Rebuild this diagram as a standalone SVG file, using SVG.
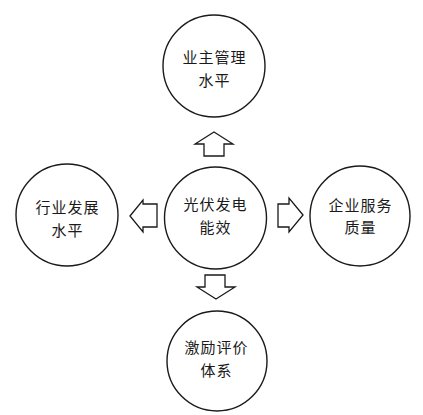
<svg xmlns="http://www.w3.org/2000/svg" width="423" height="415" viewBox="0 0 423 415">
<style>
.c{fill:#fff;stroke:#1a1a1a;stroke-width:1.4}
.a{fill:#fff;stroke:#1a1a1a;stroke-width:1.3;stroke-linejoin:miter}
text{font-family:"Noto Sans CJK SC","Noto Sans CJK JP",sans-serif;font-size:15px;letter-spacing:1px;fill:#1a1a1a;text-anchor:middle}
</style>
<rect width="423" height="415" fill="#fff"/>
<g id="connectors">
<polygon class="a" points="214,132 233,144 224,144 224,156 204,156 204,144 195,144"/>
<polygon class="a" points="216,299 235,287 225,287 225,275 205,275 205,287 197,287"/>
<polygon class="a" points="130,216 143,200 143,204 157,204 157,227 143,227 143,232"/>
<polygon class="a" points="303,215 289,198 289,204 278,204 278,227 289,227 289,232"/>
</g>
<g id="top"><circle class="c" cx="214" cy="66" r="51"/><text x="214.5" y="63">业主管理</text><text x="214.5" y="86">水平</text></g>
<g id="center"><circle class="c" cx="215.5" cy="218" r="51"/><text x="215.5" y="210">光伏发电</text><text x="215.5" y="233">能效</text></g>
<g id="left"><circle class="c" cx="67" cy="215" r="51"/><text x="67.5" y="213">行业发展</text><text x="67.5" y="236">水平</text></g>
<g id="right"><circle class="c" cx="360" cy="216" r="50"/><text x="360.5" y="211">企业服务</text><text x="360.5" y="233">质量</text></g>
<g id="bottom"><circle class="c" cx="217" cy="361" r="50"/><text x="216.5" y="353">激励评价</text><text x="216.5" y="376">体系</text></g>
</svg>
